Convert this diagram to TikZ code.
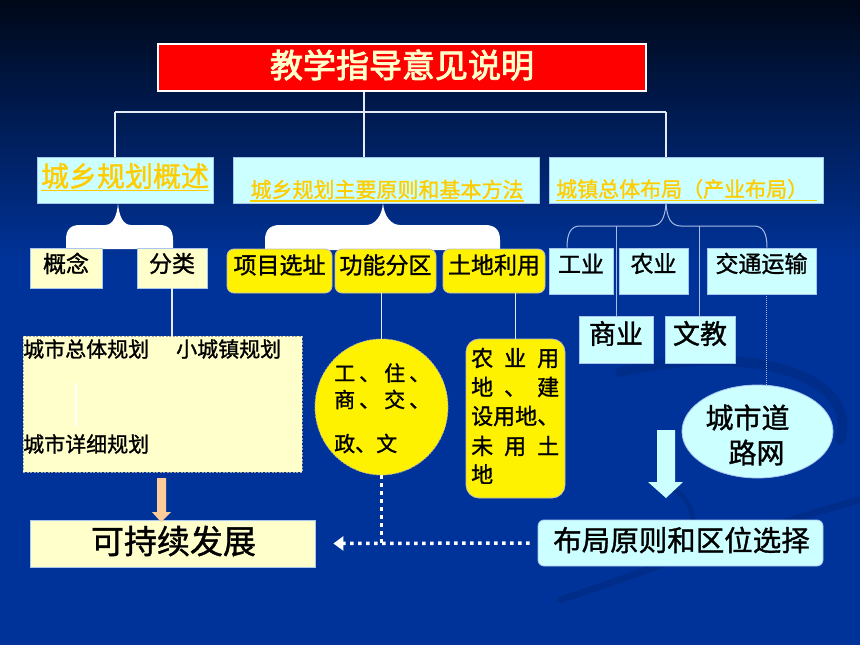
\documentclass[tikz,border=0pt]{standalone}
\usepackage{fontspec}
\setmainfont{Noto Sans CJK SC}[RawFeature={embolden=1.2}]
\newfontfamily\titlefont{Noto Sans CJK SC}[RawFeature={embolden=2.6}]
\usetikzlibrary{arrows.meta,shapes.geometric}
\definecolor{bgblue}{HTML}{003399}
\definecolor{bgtop}{HTML}{000818}
\definecolor{bgmid}{HTML}{00226A}
\definecolor{paleyellow}{HTML}{FFFFCC}
\definecolor{palecyan}{HTML}{CCFFFF}
\definecolor{goldtxt}{HTML}{FFCC00}
\definecolor{peach}{HTML}{FFCC99}
\definecolor{linecol}{HTML}{E4EAF6}
\definecolor{thinline}{HTML}{A8BCE8}
\definecolor{edgecol}{HTML}{A9C6EE}
\definecolor{titletxt}{HTML}{FFFFCC}
\definecolor{swirl}{HTML}{002D8A}
\begin{document}
\begin{tikzpicture}[x=1pt,y=-1pt,
  fs/.style={font=\fontsize{#1}{#1}\selectfont},
  cbox/.style={draw=edgecol,line width=0.8pt,fill=palecyan,inner sep=0pt},
  ybox/.style={draw=edgecol,line width=0.8pt,fill=paleyellow,inner sep=0pt},
  rbox/.style={draw=black!25,line width=0.8pt,fill=yellow,rounded corners=7pt,inner sep=0pt},
  txt/.style={inner sep=0pt,text=black},
  conn/.style={draw=linecol,line width=1.6pt},
  thinconn/.style={draw=thinline,line width=1pt},
  dotconn/.style={draw=white,line width=3.5pt,dash pattern=on 3.5pt off 4.5pt},
  dotthin/.style={draw=thinline,line width=1pt,dash pattern=on 1pt off 1pt},
  uline/.style={draw=goldtxt,line width=1.3pt},
  headtxt/.style={inner sep=0pt,text=goldtxt}]

% background
\useasboundingbox (0,0) rectangle (860,645);
\shade[top color=bgtop,middle color=bgmid,bottom color=bgblue] (0,0) rectangle (860,261);
\fill[bgblue] (0,260) rectangle (860,645);
\draw[swirl,line width=10pt,line cap=round] (620,372) .. controls (760,340) and (860,380) .. (840,440);
\draw[swirl,line width=7pt,line cap=round] (560,600) .. controls (680,560) and (780,520) .. (860,500);
\draw[swirl,line width=5pt] (660,480) .. controls (700,500) and (700,530) .. (680,555);

% title
\node[draw=white,line width=1.5pt,fill=red,minimum width=488pt,minimum height=47pt,inner sep=0pt] (title) at (402,67.5) {};
\node[inner sep=0pt,text=titletxt,font=\titlefont\fontsize{33}{33}\selectfont] (titletext) at (402,65) {教学指导意见说明};

% second row
\node[cbox,minimum width=176pt,minimum height=46pt] (A) at (125,180) {};
\node[cbox,minimum width=306pt,minimum height=46pt] (B) at (386,180) {};
\node[cbox,minimum width=274pt,minimum height=46pt] (C) at (686,180) {};
\node[headtxt,fs=28] (tA) at (125,176) {城乡规划概述};
\node[headtxt,fs=21] (tB) at (387,189.5) {城乡规划主要原则和基本方法};
\node[headtxt,fs=21,anchor=west] (tC) at (556,189) {城镇总体布局（产业布局）};
\draw[uline] ([yshift=-1.5pt]tA.south west) -- ([yshift=-1.5pt]tA.south east);
\draw[uline] ([yshift=-1.5pt]tB.south west) -- ([yshift=-1.5pt]tB.south east);
\draw[uline] ([yshift=-1.5pt]tC.south west) -- ([xshift=9pt,yshift=-1.5pt]tC.south east);

% bus
\coordinate (busL) at (115,112);
\coordinate (busM) at (364,112);
\coordinate (busR) at (666,112);
\draw[conn] (busM |- title.south) -- (busM);
\draw[conn] (busL) -- (busR);
\draw[conn] (busL) -- (busL |- A.north);
\draw[conn] (busM) -- (busM |- B.north);
\draw[conn] (busR) -- (busR |- C.north);

% braces
\fill[white] (66,249) -- (66,240) .. controls (66,230) and (70,225) .. (80,225) -- (105,225)
  .. controls (113,225) and (117,216) .. (118,203) .. controls (119,216) and (123,225) .. (131,225)
  -- (159,225) .. controls (169,225) and (173,230) .. (173,240) -- (173,249) -- cycle;
\fill[white] (265,250) -- (265,240) .. controls (265,230) and (270,225) .. (280,225) -- (366,225)
  .. controls (375,225) and (382,216) .. (383,203) .. controls (384,216) and (391,225) .. (400,225)
  -- (485,225) .. controls (495,225) and (500,230) .. (500,240) -- (500,250) -- cycle;

% third row
\node[ybox,minimum width=72pt,minimum height=40pt] (gn1) at (66,268) {};
\node[ybox,minimum width=70pt,minimum height=40pt] (fl) at (172,268) {};
\node[txt,fs=23] (tgn1) at (66,263.5) {概念};
\node[txt,fs=23] (tfl) at (172,263.5) {分类};

\node[rbox,minimum width=105pt,minimum height=44pt] (xm) at (279.5,271) {};
\node[rbox,minimum width=101pt,minimum height=44pt] (gn) at (385.5,271) {};
\node[rbox,minimum width=102pt,minimum height=44pt] (td) at (494,271) {};
\node[txt,fs=23] (txm) at (279.5,265) {项目选址};
\node[txt,fs=23] (tgn) at (385.5,265) {功能分区};
\node[txt,fs=23] (ttd) at (494,265) {土地利用};

\node[cbox,minimum width=64pt,minimum height=46pt] (gy) at (581,271) {};
\node[cbox,minimum width=69pt,minimum height=46pt] (ny) at (653.5,271) {};
\node[cbox,minimum width=109pt,minimum height=46pt] (jt) at (761.5,271) {};
\node[txt,fs=23] (tgy) at (581,263.5) {工业};
\node[txt,fs=23] (tny) at (653.5,263.5) {农业};
\node[txt,fs=23] (tjt) at (761.5,263.5) {交通运输};

\node[cbox,minimum width=74pt,minimum height=47pt] (sy) at (616,339.5) {};
\node[cbox,minimum width=70pt,minimum height=47pt] (wj) at (700,339.5) {};
\node[txt,fs=27] (tsy) at (616,333.5) {商业};
\node[txt,fs=27] (twj) at (700,333.5) {文教};

% C brace thin lines
\coordinate (cbar) at (0,226);
\draw[thinconn] (busR |- C.south) .. controls (665,218) and (661,226) .. (651,226) -- (580,226)
  .. controls (571,226) and (567,233) .. (567,0 |- gy.north);
\draw[thinconn] (busR |- C.south) .. controls (667,218) and (671,226) .. (681,226) -- (754,226)
  .. controls (763,226) and (767,233) .. (767,0 |- jt.north);
\draw[thinconn] (sy.north |- cbar) -- (sy.north);
\draw[thinconn] (699,0 |- cbar) -- (699,0 |- wj.north);

% big pale box
\node[ybox,draw=black!35,dash pattern=on 2pt off 1.5pt,minimum width=279pt,minimum height=136pt] (big) at (162.5,404) {};
\node[txt,fs=21,anchor=west] (b1) at (23,349) {城市总体规划};
\node[txt,fs=21,anchor=west] (b2) at (176,349) {小城镇规划};
\node[txt,fs=21,anchor=west] (b3) at (23,444) {城市详细规划};
\draw[draw=white,line width=1.5pt] ([xshift=53pt,yshift=-24pt]b1.south west) -- ([xshift=53pt,yshift=8pt]b3.north west);
\draw[conn] (fl.south) -- (fl.south |- big.north);

% circle
\node[ellipse,fill=yellow,draw=black!30,dash pattern=on 2pt off 1.5pt,line width=0.8pt,minimum width=133pt,minimum height=136pt,inner sep=0pt] (circ) at (381.5,407) {};
\node[txt,fs=21,anchor=west] (c1) at (334,373) {\makebox[96pt][s]{工\hfill 、\hfill 住\hfill 、}};
\node[txt,fs=21,anchor=west] (c2) at (334,399.5) {\makebox[96pt][s]{商\hfill 、\hfill 交\hfill 、}};
\node[txt,fs=21,anchor=west] (c3) at (334,443.5) {政、文};
\draw[conn] (circ.north) -- (circ.north |- gn.south);

% land use box
\node[rbox,rounded corners=13pt,minimum width=99pt,minimum height=159pt] (land) at (515.5,418.5) {};
\node[txt,fs=22,anchor=west] (l1) at (471,358) {\makebox[88pt][s]{农\hfill 业\hfill 用}};
\node[txt,fs=22,anchor=west] (l2) at (471,387) {\makebox[88pt][s]{地\hfill 、\hfill 建}};
\node[txt,fs=22,anchor=west] (l3) at (471,416) {\makebox[88pt][s]{设用地、}};
\node[txt,fs=22,anchor=west] (l4) at (471,446) {\makebox[88pt][s]{未\hfill 用\hfill 土}};
\node[txt,fs=22,anchor=west] (l5) at (471,474) {地};
\draw[conn] (land.north) -- (land.north |- td.south);

% road ellipse
\node[ellipse,fill=palecyan,draw=edgecol,line width=0.8pt,minimum width=151pt,minimum height=93pt,inner sep=0pt] (road) at (757.5,431.5) {};
\node[txt,fs=28] (r1) at (747.5,417.5) {城市道};
\node[txt,fs=28] (r2) at (756.5,452.5) {路网};
\draw[dotthin] (766,0 |- jt.south) -- (766,0 |- road.north);

% bottom boxes
\node[ybox,minimum width=285pt,minimum height=47pt] (kc) at (172.5,543.5) {};
\node[txt,fs=33] (tkc) at (173.5,541) {可持续发展};
\node[cbox,rounded corners=6pt,minimum width=285pt,minimum height=46pt] (bj) at (680.5,543) {};
\node[txt,fs=28.5] (tbj) at (681.5,540) {布局原则和区位选择};

% block arrows
\fill[peach] (157,478) -- (166,478) -- (166,512) -- (171,512) -- (161,522) -- (152,512) -- (157,512) -- cycle;
\fill[palecyan] (657,430) -- (675,430) -- (675,482) -- (683,482) -- (666,498) -- (648,482) -- (657,482) -- cycle;

% dotted connectors
\draw[dotconn] (circ.south) -- (circ.south |- kc.east);
\draw[dotconn,-{Triangle[length=10pt,width=14pt]}] ([xshift=-8pt]bj.west) -- ([xshift=18pt]kc.east);
\end{tikzpicture}
\end{document}
